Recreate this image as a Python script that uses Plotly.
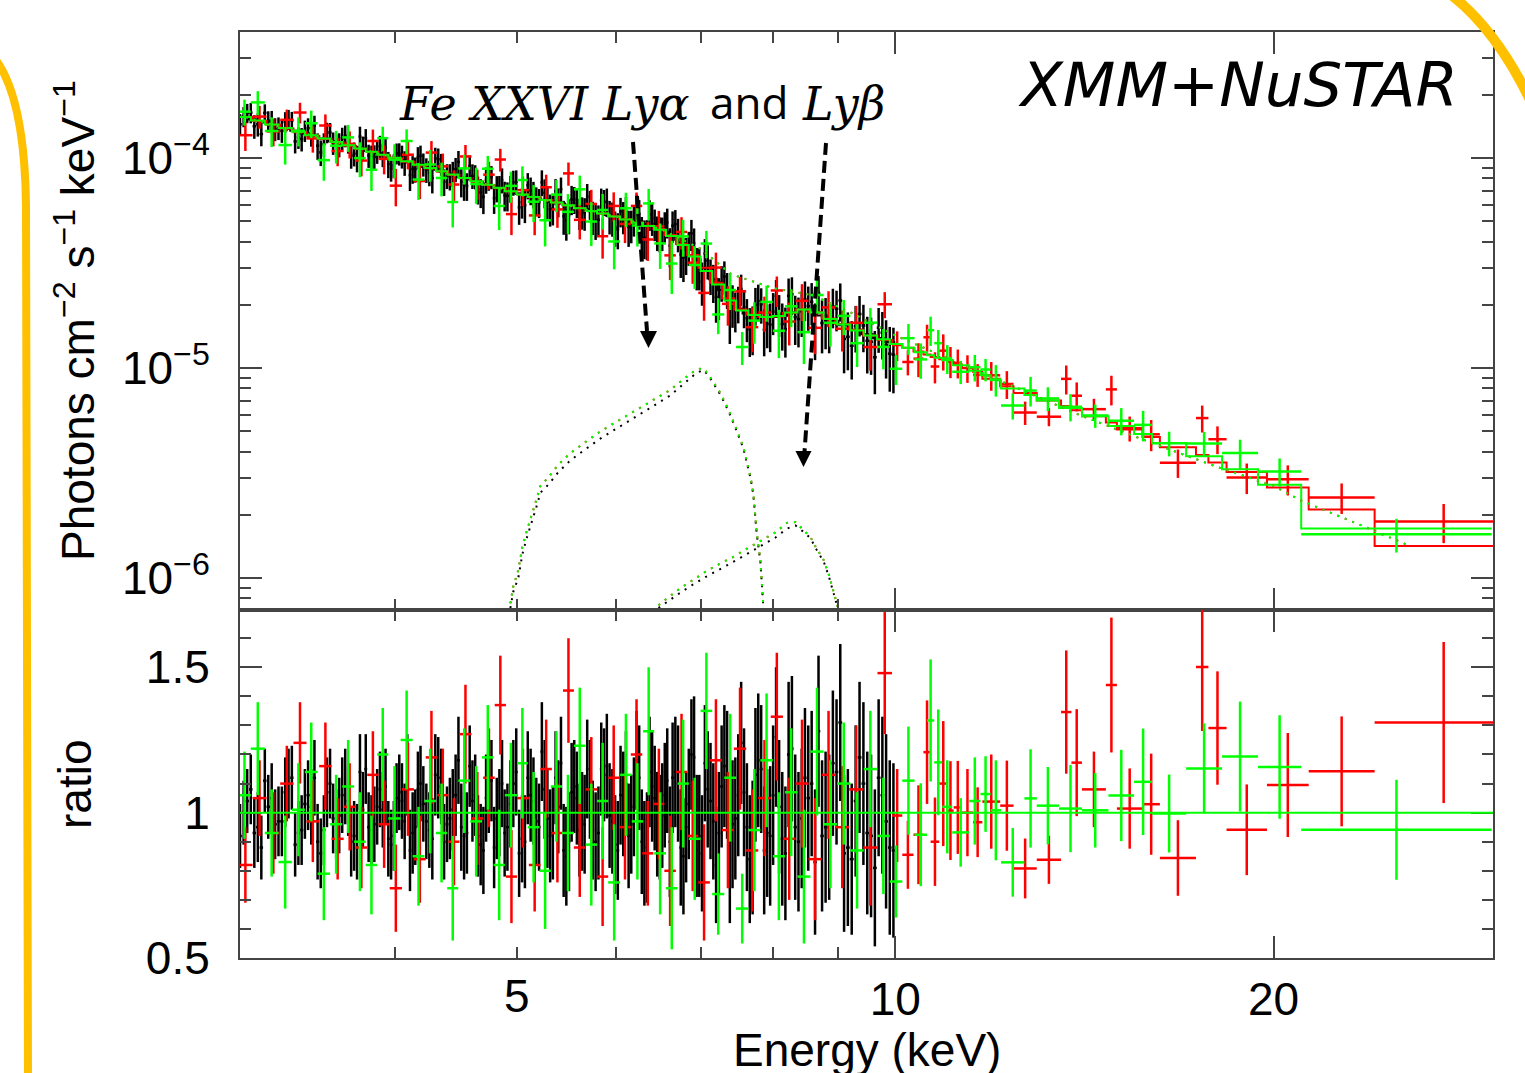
import math
import plotly.graph_objects as go
from plotly.subplots import make_subplots

# ---------------- data ----------------
# XMM-Newton (black): bin edges (keV); model per edge-bin (1e-4 ph/cm2/s/keV);
# data ratio given for three sub-bins per edge-bin (pairs + one extra)
black_edges = [3.00, 3.06, 3.12, 3.18, 3.24, 3.30, 3.36, 3.42, 3.48, 3.54, 3.60, 3.66, 3.72, 3.78, 3.84, 3.90, 3.96, 4.02, 4.08, 4.14, 4.20,
               4.27, 4.34, 4.41, 4.48, 4.55, 4.62, 4.69, 4.76, 4.83, 4.90,
               4.98, 5.06, 5.14, 5.22, 5.30, 5.38, 5.46, 5.54, 5.62, 5.70,
               5.79, 5.88, 5.97, 6.06, 6.15, 6.24, 6.33, 6.42, 6.51, 6.60,
               6.70, 6.80, 6.90, 7.00, 7.11, 7.22, 7.33, 7.44, 7.56,
               7.68, 7.80, 7.93, 8.06, 8.20, 8.35, 8.50, 8.66,
               8.83, 9.01, 9.20, 9.40, 9.60, 9.80, 10.0]
black_model_1e4 = [1.574, 1.524, 1.477, 1.432, 1.389, 1.348, 1.310, 1.272, 1.237, 1.203, 1.171, 1.140, 1.110, 1.081, 1.054, 1.028, 1.002, 0.979, 0.954, 0.931,
                   0.906, 0.881, 0.857, 0.834, 0.812, 0.791, 0.770, 0.751, 0.732, 0.714,
                   0.696, 0.677, 0.662, 0.647, 0.633, 0.620, 0.607, 0.594, 0.582, 0.570,
                   0.558, 0.546, 0.534, 0.525, 0.510, 0.497, 0.485, 0.473, 0.462, 0.445,
                   0.425, 0.395, 0.365, 0.330, 0.300, 0.265, 0.235, 0.210, 0.192,
                   0.182, 0.177, 0.175, 0.175, 0.178, 0.184, 0.190, 0.188,
                   0.178, 0.168, 0.160, 0.152, 0.145, 0.139, 0.133]
black_ratio_err = [0.11, 0.12, 0.11, 0.12, 0.12, 0.11, 0.12, 0.13, 0.12, 0.12, 0.13, 0.12, 0.13, 0.12, 0.13, 0.13, 0.12, 0.13, 0.14, 0.13,
                   0.13, 0.14, 0.13, 0.14, 0.15, 0.14, 0.14, 0.15, 0.14, 0.15,
                   0.15, 0.15, 0.16, 0.15, 0.17, 0.16, 0.16, 0.17, 0.16, 0.17,
                   0.17, 0.16, 0.18, 0.17, 0.18, 0.17, 0.18, 0.19, 0.18, 0.18,
                   0.19, 0.20, 0.19, 0.21, 0.20, 0.20, 0.21, 0.22, 0.21,
                   0.22, 0.23, 0.22, 0.24, 0.23, 0.25, 0.24, 0.25,
                   0.26, 0.25, 0.27, 0.26, 0.28, 0.27, 0.30]
black_ratio = [0.92, 1.04, 1.08, 0.95, 0.88, 1.02, 1.05, 0.97, 0.97, 1.10, 1.12, 0.93, 0.94, 1.06, 1.02, 0.90, 0.86, 1.07, 1.10, 0.96,
               0.99, 1.09, 1.04, 0.92, 0.90, 1.01, 1.15, 0.94, 0.96, 1.08, 1.01, 0.91, 0.89, 1.05, 1.07, 0.97, 1.13, 0.93, 0.95, 1.10,
               1.03, 0.94, 0.91, 1.12, 1.09, 0.96, 0.98, 1.06, 1.18, 0.92, 0.93, 1.04, 1.06, 0.89, 0.87, 1.08, 1.11, 0.98, 1.00, 0.93,
               0.95, 1.10, 1.14, 0.91, 0.90, 1.06, 1.04, 0.95, 1.21, 0.98, 0.92, 1.12, 1.02, 0.87, 0.85, 1.07, 1.09, 0.94, 0.97, 1.15,
               1.08, 0.90, 0.93, 1.13, 1.16, 0.97, 0.89, 1.06, 1.03, 0.92, 0.96, 1.18, 1.12, 0.86, 0.88, 1.09, 1.05, 0.95, 0.99, 1.11,
               0.90, 1.14, 1.10, 0.85, 0.95, 1.20, 1.19, 0.92, 0.86, 1.08, 1.04, 0.82, 0.93, 1.16, 1.13, 0.96, 0.98, 1.24,
               1.07, 0.84, 0.88, 1.18, 1.15, 0.93, 0.92, 1.26, 1.02, 0.86, 1.20, 0.95, 0.90, 1.12, 1.05, 0.83,
               1.28, 0.95, 0.95, 1.14, 1.31, 0.88, 0.84, 1.19, 1.10, 0.92, 0.81, 1.06, 0.97, 0.87]
black_ratio_extra = [1.00, 0.93, 1.11, 0.96, 1.07, 0.89, 1.03, 1.12, 0.94, 0.98, 1.06, 0.90, 1.14, 0.95, 1.02, 1.09, 0.92, 1.04, 0.87, 1.08,
                     0.97, 1.13, 0.90, 1.01, 0.95, 1.16, 0.92, 1.05, 0.88, 1.10,
                     1.03, 0.86, 1.12, 0.97, 1.08, 0.93, 1.17, 0.90, 1.05, 0.96,
                     0.94, 1.15, 0.99, 0.87, 1.10, 1.02, 0.90, 1.14, 0.96, 1.06,
                     1.12, 0.88, 1.03, 0.92, 1.17, 0.97, 1.09, 0.84, 1.06,
                     0.95, 1.13, 0.87, 1.06, 0.91, 1.22, 0.98, 1.10,
                     0.92, 1.17, 0.86, 1.04, 0.93, 1.12, 0.88]

# NuSTAR FPMA (red)
red_edges = [3.00, 3.08, 3.16, 3.24, 3.32, 3.40, 3.48, 3.56, 3.64, 3.72, 3.80, 3.88, 3.96, 4.05, 4.14, 4.23, 4.32, 4.41, 4.50, 4.60, 4.70, 4.80, 4.90, 5.00,
             5.11, 5.22, 5.33, 5.44, 5.55, 5.67, 5.79, 5.91, 6.03, 6.16, 6.29, 6.42, 6.55, 6.69, 6.83, 6.97,
             7.12, 7.28, 7.44, 7.61, 7.78, 7.96, 8.14, 8.33, 8.53, 8.74, 8.96, 9.19, 9.43, 9.68, 9.94,
             10.13, 10.34, 10.53, 10.67, 10.84, 11.00, 11.13, 11.30, 11.53, 11.73, 12.12, 12.42, 12.96, 13.55,
             13.81, 14.08, 14.71, 15.01, 15.73, 16.24, 17.35, 17.75, 18.35, 19.76, 21.33, 24.07, 31.0]
red_model_1e4 = [1.566, 1.500, 1.439, 1.382, 1.328, 1.278, 1.231, 1.187, 1.144, 1.105, 1.067, 1.032, 0.998, 0.960, 0.925, 0.892, 0.861, 0.831, 0.801, 0.772, 0.744, 0.718, 0.693,
                 0.670, 0.650, 0.631, 0.612, 0.595, 0.577, 0.560, 0.544, 0.528, 0.511, 0.493, 0.476, 0.459, 0.430, 0.390, 0.345,
                 0.300, 0.255, 0.215, 0.190, 0.180, 0.175, 0.176, 0.183, 0.190, 0.185, 0.172, 0.162, 0.152, 0.143, 0.136,
                 0.130, 0.125, 0.120, 0.116, 0.113, 0.110, 0.107, 0.104, 0.100, 0.096, 0.089, 0.082, 0.076, 0.070,
                 0.066, 0.063, 0.059, 0.055, 0.051, 0.047, 0.042, 0.0385, 0.0355, 0.032, 0.027, 0.0212, 0.0142]
red_ratio = [0.82, 1.05, 0.93, 1.10, 1.24, 0.97, 1.16, 0.91, 1.02, 0.88, 1.13, 0.96, 0.74, 1.08, 0.84, 1.19, 1.06, 0.90, 1.27, 0.98, 1.12, 1.37, 0.78,
             1.05, 0.82, 1.15, 0.93, 1.42, 0.88, 1.08, 0.78, 1.12, 0.95, 1.20, 0.86, 1.03, 0.80, 1.14, 0.92,
             0.76, 1.18, 0.94, 1.22, 0.87, 1.05, 1.33, 0.91, 1.10, 0.84, 1.13, 0.95, 1.08, 0.88, 1.48,
             0.99, 0.855, 0.924, 1.208, 0.90, 1.10, 1.007, 1.018, 1.00, 0.967, 1.038, 1.024, 0.808, 0.838,
             1.346, 1.172, 1.080, 1.439, 1.014, 1.029, 0.844, 1.501, 1.291, 0.941, 1.095, 1.142, 1.310]
red_ratio_err = [0.13, 0.13, 0.14, 0.13, 0.14, 0.14, 0.15, 0.14, 0.15, 0.14, 0.15, 0.15, 0.15, 0.16, 0.15, 0.16, 0.16, 0.15, 0.17, 0.16, 0.17, 0.17, 0.16,
                 0.17, 0.16, 0.17, 0.17, 0.18, 0.17, 0.18, 0.17, 0.18, 0.18, 0.19, 0.18, 0.19, 0.19, 0.20, 0.19,
                 0.20, 0.21, 0.20, 0.21, 0.21, 0.20, 0.22, 0.21, 0.22, 0.21, 0.22, 0.21, 0.22, 0.20, 0.21,
                 0.16, 0.117, 0.17, 0.178, 0.152, 0.215, 0.17, 0.16, 0.15, 0.12, 0.162, 0.155, 0.103, 0.083,
                 0.212, 0.184, 0.13, 0.232, 0.138, 0.174, 0.13, 0.22, 0.195, 0.156, 0.179, 0.189, 0.277]

# NuSTAR FPMB (green)
green_edges = [3.00, 3.07, 3.15, 3.23, 3.31, 3.39, 3.47, 3.55, 3.63, 3.71, 3.79, 3.87, 3.95, 4.04, 4.13, 4.22, 4.31, 4.40, 4.49, 4.59, 4.69, 4.79, 4.89, 5.00,
               5.10, 5.21, 5.32, 5.43, 5.55, 5.67, 5.79, 5.91, 6.04, 6.17, 6.30, 6.43, 6.57, 6.71, 6.85, 7.00,
               7.15, 7.31, 7.47, 7.64, 7.81, 7.99, 8.17, 8.36, 8.56, 8.77, 8.99, 9.21, 9.44, 9.67, 9.90,
               10.13, 10.36, 10.60, 10.74, 10.90, 11.10, 11.45, 11.69,
               11.91, 12.14, 12.67, 12.96, 13.50, 14.08, 14.78, 15.49, 16.01, 17.04, 18.20, 19.44, 21.04, 29.83]
green_model_1e4 = [1.568, 1.508, 1.446, 1.389, 1.335, 1.284, 1.237, 1.192, 1.150, 1.110, 1.072, 1.036, 1.002, 0.964, 0.929, 0.896, 0.864, 0.834, 0.804, 0.775, 0.747, 0.721, 0.695,
                   0.671, 0.652, 0.632, 0.614, 0.596, 0.577, 0.560, 0.544, 0.527, 0.510, 0.492, 0.475, 0.456, 0.425, 0.385, 0.340,
                   0.290, 0.250, 0.210, 0.188, 0.179, 0.175, 0.177, 0.184, 0.190, 0.184, 0.171, 0.161, 0.151, 0.143, 0.137,
                   0.130, 0.125, 0.119, 0.115, 0.112, 0.109, 0.103, 0.097,
                   0.0925, 0.0875, 0.080, 0.0745, 0.070, 0.0645, 0.059, 0.053, 0.0485, 0.044, 0.038, 0.033, 0.0278, 0.0172]
green_ratio = [1.06, 1.22, 0.93, 0.83, 1.01, 1.14, 0.79, 0.96, 1.09, 0.90, 0.82, 1.20, 0.98, 1.25, 0.85, 1.04, 0.93, 0.74, 1.11, 0.97, 1.19, 0.82, 1.06,
               1.17, 0.95, 0.80, 1.09, 0.93, 1.23, 0.89, 1.04, 0.76, 1.13, 0.97, 1.28, 0.86, 0.74, 1.10, 0.91,
               1.35, 0.72, 1.12, 0.67, 0.94, 1.18, 0.85, 1.07, 0.78, 1.21, 0.96, 1.10, 0.87, 1.15, 0.92,
               0.763, 1.11, 0.924, 1.317, 1.173, 1.02, 0.932, 1.04,
               1.064, 1.008, 0.829, 1.049, 1.024, 1.014, 1.008, 1.059, 1.106, 0.997, 1.152, 1.193, 1.157, 0.941]
green_ratio_err = [0.15, 0.16, 0.15, 0.16, 0.16, 0.17, 0.16, 0.17, 0.16, 0.17, 0.17, 0.16, 0.18, 0.17, 0.17, 0.18, 0.17, 0.18, 0.18, 0.19, 0.18, 0.19, 0.18,
                   0.19, 0.19, 0.20, 0.19, 0.20, 0.20, 0.21, 0.20, 0.20, 0.21, 0.20, 0.22, 0.21, 0.21, 0.22, 0.21,
                   0.20, 0.14, 0.22, 0.12, 0.21, 0.23, 0.22, 0.22, 0.23, 0.22, 0.22, 0.21, 0.20, 0.20, 0.20,
                   0.124, 0.186, 0.177, 0.21, 0.182, 0.16, 0.118, 0.15,
                   0.13, 0.172, 0.118, 0.169, 0.133, 0.15, 0.128, 0.157, 0.183, 0.134, 0.155, 0.189, 0.178, 0.172]

# Fe XXVI Ly-alpha / Ly-beta model components (1e-6 ph/cm2/s/keV)
lya_energy = [4.94, 4.966, 5.012, 5.05, 5.09, 5.14, 5.18, 5.22, 5.30, 5.39, 5.51, 5.65, 5.82, 6.00, 6.19,
              6.42, 6.62, 6.78, 6.95, 7.04, 7.12, 7.26, 7.37, 7.48, 7.57, 7.67, 7.71, 7.76, 7.81, 7.85]
lya_flux_nustar_1e6 = [0.758, 0.91, 1.09, 1.41, 1.67, 2.0, 2.35, 2.75, 3.03, 3.45, 3.92, 4.38, 4.97, 5.55, 6.19,
                       7.05, 7.86, 8.83, 9.86, 9.97, 9.1, 7.59, 6.31, 5.07, 4.22, 3.03, 2.53, 1.63, 1.22, 0.76]
lya_flux_xmm_1e6 = [0.72, 0.86, 1.0, 1.3, 1.55, 1.85, 2.17, 2.55, 2.8, 3.18, 3.62, 4.05, 4.6, 5.15, 5.75,
                    6.6, 7.4, 8.4, 9.5, 9.8, 9.0, 7.45, 6.2, 5.0, 4.15, 3.0, 2.5, 1.6, 1.2, 0.75]
lyb_energy = [6.48, 6.56, 6.64, 6.74, 6.90, 7.06, 7.25, 7.43, 7.62, 7.83, 8.03, 8.20, 8.33, 8.43, 8.56, 8.66, 8.77, 8.85, 8.93, 9.00]
lyb_flux_nustar_1e6 = [0.743, 0.786, 0.836, 0.893, 0.978, 1.07, 1.17, 1.26, 1.38, 1.52, 1.65, 1.83, 1.85, 1.72, 1.57, 1.38, 1.22, 1.05, 0.877, 0.73]
lyb_flux_xmm_1e6 = [0.72, 0.76, 0.80, 0.85, 0.93, 1.01, 1.10, 1.19, 1.30, 1.43, 1.56, 1.72, 1.78, 1.68, 1.55, 1.36, 1.20, 1.03, 0.86, 0.72]

# continuum (dotted) component (1e-4)
cont_energy = [3.0, 4.0, 5.0, 6.0, 6.5, 7.0, 7.4, 8.0, 8.6, 9.2, 10, 11, 12, 14, 16, 18, 20, 21, 23.4, 25.7]
cont_flux_1e4 = [1.6, 1.0, 0.68, 0.525, 0.46, 0.37, 0.28, 0.24, 0.222, 0.185, 0.143, 0.112, 0.089, 0.06, 0.044, 0.034, 0.0275, 0.0235, 0.018, 0.0142]

# tick labels
x_tick_vals = [10, 20]
x_tick_text = ["10", "20"]
x_extra_label_val = 5
x_extra_label_text = "5"
x_minor_vals = [4, 5, 6, 7, 8, 9]
y_top_tick_vals = [1e-6, 1e-5, 1e-4]
y_top_tick_text = ["10<sup>−6</sup>", "10<sup>−5</sup>", "10<sup>−4</sup>"]
y_bot_tick_vals = [0.5, 1, 1.5]
y_bot_tick_text = ["0.5", "1", "1.5"]

# ---------------- helpers ----------------
BLACK, RED, GREEN = "#000000", "#ff0000", "#00ff00"
AX = "#444444"
SANS = "Liberation Sans, Arial, sans-serif"


def binned(edges, model, per_bin_ratios, err):
    """per_bin_ratios[p] = list of ratios of equal sub-bins inside edge-bin p"""
    out = dict(x=[], xp=[], xm=[], r=[], re=[], f=[], fe=[])
    for p, rs in enumerate(per_bin_ratios):
        lo0, hi0 = edges[p], edges[p + 1]
        w = (hi0 - lo0) / len(rs)
        for k, r in enumerate(rs):
            lo, hi = lo0 + k * w, lo0 + (k + 1) * w
            c = math.sqrt(lo * hi)
            m = model[p] * 1e-4
            out["x"].append(c)
            out["xp"].append(hi - c)
            out["xm"].append(c - lo)
            out["r"].append(r)
            out["re"].append(err[p])
            out["f"].append(m * r)
            out["fe"].append(m * err[p])
    return out


def px(x):
    return (x - 240) / 1253.0


def py(y):
    return (958 - y) / 926.0


fig = make_subplots(rows=2, cols=1, shared_xaxes=True, vertical_spacing=0,
                    row_heights=[0.6242, 0.3758])


def add_instrument(edges, model, per_bin, err, color, thick=2.5):
    d = binned(edges, model, per_bin, err)
    ex = dict(type="data", symmetric=False, array=d["xp"], arrayminus=d["xm"],
              color=color, thickness=thick, width=0)
    mk = dict(size=1, color=color, opacity=0)
    fig.add_trace(go.Scatter(x=d["x"], y=d["f"], mode="markers", marker=mk,
                             error_x=ex,
                             error_y=dict(type="data", array=d["fe"], color=color, thickness=thick, width=0),
                             hoverinfo="skip"), row=1, col=1)
    fig.add_trace(go.Scatter(x=d["x"], y=d["r"], mode="markers", marker=mk,
                             error_x=ex,
                             error_y=dict(type="data", array=d["re"], color=color, thickness=thick, width=0),
                             hoverinfo="skip"), row=2, col=1)
    n = len(model)
    fig.add_trace(go.Scatter(x=edges[:n + 1], y=[v * 1e-4 for v in model] + [model[-1] * 1e-4],
                             mode="lines", line=dict(shape="hv", color=color, width=2),
                             hoverinfo="skip"), row=1, col=1)


black_per_bin = [[black_ratio[2 * p], black_ratio_extra[p], black_ratio[2 * p + 1]]
                 for p in range(len(black_model_1e4))]
add_instrument(black_edges, black_model_1e4, black_per_bin, black_ratio_err, BLACK, thick=2.5)
add_instrument(red_edges, red_model_1e4, [[r] for r in red_ratio], red_ratio_err, RED)
add_instrument(green_edges, green_model_1e4, [[r] for r in green_ratio], green_ratio_err, GREEN)

DOT = "2px,6px"
for col in (RED, GREEN):
    fig.add_trace(go.Scatter(x=cont_energy, y=[v * 1e-4 for v in cont_flux_1e4], mode="lines",
                             line=dict(color=col, width=2, dash=DOT), hoverinfo="skip"), row=1, col=1)
for col, fa, fb in ((BLACK, lya_flux_xmm_1e6, lyb_flux_xmm_1e6),
                    (RED, lya_flux_nustar_1e6, lyb_flux_nustar_1e6),
                    (GREEN, lya_flux_nustar_1e6, lyb_flux_nustar_1e6)):
    fig.add_trace(go.Scatter(x=lya_energy, y=[v * 1e-6 for v in fa], mode="lines",
                             line=dict(color=col, width=2, dash=DOT), hoverinfo="skip"), row=1, col=1)
    fig.add_trace(go.Scatter(x=lyb_energy, y=[v * 1e-6 for v in fb], mode="lines",
                             line=dict(color=col, width=2, dash=DOT), hoverinfo="skip"), row=1, col=1)

# ---------------- axes ----------------
tickfont = dict(family=SANS, size=46, color="black")
common = dict(showline=True, linecolor=AX, linewidth=2, mirror="allticks", ticks="inside",
              tickcolor=AX, tickwidth=2, showgrid=False, zeroline=False, tickfont=tickfont,
              automargin=False)
fig.update_xaxes(type="log", range=[math.log10(3.01), math.log10(29.9)],
                 tickmode="array", tickvals=x_tick_vals, ticktext=x_tick_text, ticklen=22,
                 minor=dict(tickvals=x_minor_vals, ticklen=11, ticks="inside", tickcolor=AX, tickwidth=2),
                 ticklabelstandoff=0, **common)
fig.update_xaxes(showticklabels=False, row=1, col=1)

y_top_minor = [m * 10.0 ** e for e in (-7, -6, -5, -4) for m in range(2, 10)]
fig.update_yaxes(type="log", range=[-6.152, -3.4], tickmode="array", tickvals=y_top_tick_vals,
                 ticktext=y_top_tick_text, ticklen=22,
                 minor=dict(tickvals=y_top_minor, ticklen=11, ticks="inside", tickcolor=AX, tickwidth=2),
                 ticklabelstandoff=19, row=1, col=1, **common)
fig.update_yaxes(range=[0.5, 1.697], tickmode="array", tickvals=y_bot_tick_vals, ticktext=y_bot_tick_text,
                 ticklen=22, minor=dict(dtick=0.1, ticklen=11, ticks="inside", tickcolor=AX, tickwidth=2),
                 ticklabelstandoff=19, row=2, col=1, **common)

# ---------------- annotations ----------------
ann = []
ann.append(dict(x=math.log10(x_extra_label_val), xref="x2", y=py(968), yref="paper", yanchor="top",
                xanchor="center", text=x_extra_label_text, showarrow=False, font=tickfont))
ann.append(dict(x=0.5, xref="paper", y=py(1022), yref="paper", yanchor="top", xanchor="center",
                text="Energy (keV)", showarrow=False, font=dict(family=SANS, size=46, color="black")))
ann.append(dict(x=px(75), xref="paper", y=py(321), yref="paper", textangle=-90,
                xanchor="center", yanchor="middle",
                text="Photons cm<sup>−2</sup> s<sup>−1</sup> keV<sup>−1</sup>", showarrow=False,
                font=dict(family=SANS, size=46, color="black")))
ann.append(dict(x=px(75), xref="paper", y=py(785), yref="paper", textangle=-90,
                xanchor="center", yanchor="middle",
                text="ratio", showarrow=False, font=dict(family=SANS, size=46, color="black")))
serif_it = dict(family="DejaVu Serif, serif", size=46, color="black", style="italic")
ann.append(dict(x=px(397), xref="paper", y=py(104), yref="paper", xanchor="left", yanchor="middle",
                text="Fe XXVI Lyα", showarrow=False, font=serif_it))
ann.append(dict(x=px(708), xref="paper", y=py(102), yref="paper", xanchor="left", yanchor="middle",
                text="and", showarrow=False, font=dict(family="Open Sans, sans-serif", size=44, color="black")))
ann.append(dict(x=px(800), xref="paper", y=py(104), yref="paper", xanchor="left", yanchor="middle",
                text="Lyβ", showarrow=False, font=serif_it))
ann.append(dict(x=px(1016), xref="paper", y=py(84), yref="paper", xanchor="left", yanchor="middle",
                text="XMM+NuSTAR", showarrow=False,
                font=dict(family="DejaVu Sans, sans-serif", size=61, color="black", style="italic")))

shapes = []
# ratio = 1 reference line
shapes.append(dict(type="line", xref="paper", x0=0, x1=1, yref="y2", y0=1, y1=1,
                   line=dict(color=GREEN, width=2)))
# dashed arrows
arrows = [((633, 142), (647, 331), (648.5, 348), (640, 331), (657, 331)),
          ((826, 143), (804.5, 452), (803.5, 467), (795.5, 451), (811.5, 451))]
for (a, b, tip, b1, b2) in arrows:
    shapes.append(dict(type="line", xref="paper", yref="paper", x0=px(a[0]), y0=py(a[1]),
                       x1=px(b[0]), y1=py(b[1]), line=dict(color="black", width=4, dash="12px,6px")))
    shapes.append(dict(type="path", xref="paper", yref="paper",
                       path="M {},{} L {},{} L {},{} Z".format(px(tip[0]), py(tip[1]), px(b1[0]), py(b1[1]),
                                                              px(b2[0]), py(b2[1])),
                       fillcolor="black", line=dict(width=0)))
# decorative yellow arcs
YEL = "#FFC000"
shapes.append(dict(type="path", xref="paper", yref="paper", layer="above",
                   path="M {},{} C {},{} {},{} {},{} L {},{}".format(px(-4), py(60), px(14), py(85), px(25), py(130),
                                                                    px(26), py(205), px(28), py(1090)),
                   line=dict(color=YEL, width=8)))
shapes.append(dict(type="path", xref="paper", yref="paper", layer="above",
                   path="M {},{} Q {},{} {},{}".format(px(1450), py(-6), px(1497), py(30), px(1532), py(104)),
                   line=dict(color=YEL, width=10)))

fig.update_layout(width=1525, height=1073, autosize=False,
                  margin=dict(l=240, r=32, t=32, b=115),
                  paper_bgcolor="white", plot_bgcolor="white", showlegend=False,
                  annotations=ann, shapes=shapes)

fig.write_html("out.html", config={"displayModeBar": False},
               post_script="document.body.style.margin='0px';document.body.style.overflow='hidden';")
